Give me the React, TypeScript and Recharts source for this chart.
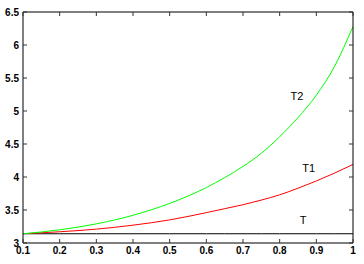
import { LineChart, Line, XAxis, YAxis, ReferenceDot } from "recharts";

const xs = [0.1, 0.2, 0.3, 0.4, 0.5, 0.6, 0.65, 0.7, 0.75, 0.8, 0.85, 0.9, 0.95, 1.0];
const tValues = [3.14, 3.14, 3.14, 3.14, 3.14, 3.14, 3.14, 3.14, 3.14, 3.14, 3.14, 3.14, 3.14, 3.14];
const t1Values = [3.14, 3.17, 3.21, 3.27, 3.35, 3.46, 3.52, 3.58, 3.65, 3.73, 3.83, 3.94, 4.06, 4.19];
const t2Values = [3.14, 3.2, 3.29, 3.42, 3.6, 3.84, 3.99, 4.16, 4.36, 4.61, 4.9, 5.24, 5.68, 6.28];
const xTicks = [0.1, 0.2, 0.3, 0.4, 0.5, 0.6, 0.7, 0.8, 0.9, 1];
const yTicks = [3, 3.5, 4, 4.5, 5, 5.5, 6, 6.5];

const data = xs.map((x, i) => ({ x, T: tValues[i], T1: t1Values[i], T2: t2Values[i] }));

const font = "'Liberation Sans', Arial, sans-serif";
const TICK = 4;

// matlab style ticks: label outside, short mark pointing into the plot
const BottomTick = (props: any) => {
  const { x, y, payload } = props;
  return (
    <g>
      <line x1={x} x2={x} y1={y - 4} y2={y - 4 - TICK} stroke="#333" />
      <text x={x} y={y} dy="0.71em" textAnchor="middle" fontSize={10} fontWeight="bold" fontFamily={font} fill="#000">
        {payload.value}
      </text>
    </g>
  );
};

const LeftTick = (props: any) => {
  const { x, y, payload } = props;
  return (
    <g>
      <line x1={x + 4} x2={x + 4 + TICK} y1={y} y2={y} stroke="#333" />
      <text x={x} y={y} dy="0.355em" textAnchor="end" fontSize={10} fontWeight="bold" fontFamily={font} fill="#000">
        {payload.value}
      </text>
    </g>
  );
};

const TopTick = (props: any) => {
  const { x, y } = props;
  return <line x1={x} x2={x} y1={y} y2={y + TICK} stroke="#333" />;
};

const RightTick = (props: any) => {
  const { x, y } = props;
  return <line x1={x} x2={x - TICK} y1={y} y2={y} stroke="#333" />;
};

const labelAt = (text: string) => ({
  value: text,
  position: "center" as const,
  fill: "#000",
  fontSize: 11,
  fontFamily: font,
});

export default function App() {
  return (
    <div style={{ position: "absolute", left: 0, top: 0, background: "#fff" }}>
      <LineChart width={364} height={264} data={data} margin={{ top: 11, right: 10, bottom: 0, left: 0 }}>
        <XAxis
          dataKey="x"
          type="number"
          domain={[0.1, 1]}
          ticks={xTicks}
          allowDataOverflow
          height={21}
          tickSize={0}
          tickMargin={4}
          tick={<BottomTick />}
          axisLine={{ stroke: "#000" }}
          tickLine={false}
        />
        <XAxis
          xAxisId="top"
          orientation="top"
          dataKey="x"
          type="number"
          domain={[0.1, 1]}
          ticks={xTicks}
          allowDataOverflow
          height={1}
          tickSize={0}
          tickMargin={0}
          tick={<TopTick />}
          axisLine={{ stroke: "#000" }}
          tickLine={false}
        />
        <YAxis
          type="number"
          domain={[3, 6.5]}
          ticks={yTicks}
          allowDataOverflow
          width={23}
          tickSize={0}
          tickMargin={4}
          tick={<LeftTick />}
          axisLine={{ stroke: "#000" }}
          tickLine={false}
        />
        <YAxis
          yAxisId="right"
          orientation="right"
          type="number"
          domain={[3, 6.5]}
          ticks={yTicks}
          allowDataOverflow
          width={1}
          tickSize={0}
          tickMargin={0}
          tick={<RightTick />}
          axisLine={{ stroke: "#000" }}
          tickLine={false}
        />
        <Line dataKey="T" stroke="#000" strokeWidth={1} dot={false} type="linear" isAnimationActive={false} />
        <Line dataKey="T1" stroke="#ff0000" strokeWidth={1} dot={false} type="monotone" isAnimationActive={false} />
        <Line dataKey="T2" stroke="#00ff00" strokeWidth={1} dot={false} type="monotone" isAnimationActive={false} />
        <ReferenceDot x={0.847} y={5.23} r={0} fill="none" stroke="none" label={labelAt("T2")} />
        <ReferenceDot x={0.879} y={4.13} r={0} fill="none" stroke="none" label={labelAt("T1")} />
        <ReferenceDot x={0.864} y={3.35} r={0} fill="none" stroke="none" label={labelAt("T")} />
      </LineChart>
    </div>
  );
}
